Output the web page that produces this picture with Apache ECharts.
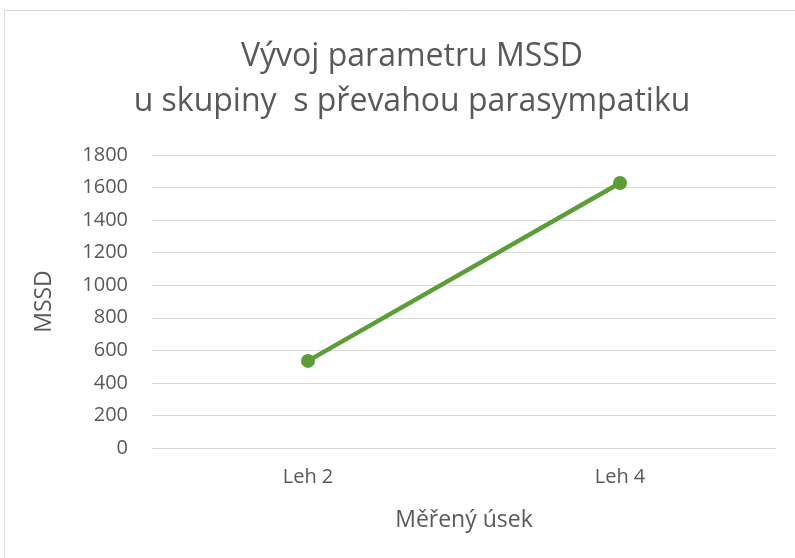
<!DOCTYPE html>
<html>
<head>
<meta charset="utf-8">
<script src="https://cdn.jsdelivr.net/npm/echarts@6/dist/echarts.min.js"></script>
<style>
    html, body { margin: 0; padding: 0; background: #fff; }
    #chart { width: 795px; height: 558px; }
</style>
</head>
<body>
<div id="chart"></div>
<script>
// data
var categories = ['Leh 2', 'Leh 4'];
var mssdValues = [535, 1628];
var yTicks = { min: 0, max: 1800, interval: 200 };

var myChart = echarts.init(document.getElementById('chart'));
var textColor = '#595959';
var font = 'Open Sans';

var option = {
    animation: false,
    title: {
        text: 'Vývoj parametru MSSD\nu skupiny  s převahou parasympatiku',
        left: 407,
        textAlign: 'center',
        top: 29,
        textStyle: {
            color: textColor,
            fontSize: 32,
            fontWeight: 'normal',
            fontFamily: font,
            lineHeight: 45
        }
    },
    // rámeček kolem grafu
    graphic: [{
        type: 'rect',
        shape: { x: 4.5, y: 10.5, width: 900, height: 900 },
        style: { fill: 'none', stroke: '#d9d9d9', lineWidth: 1 },
        silent: true
    }],
    grid: {
        left: 152,
        right: 19,
        top: 155,
        bottom: 110
    },
    xAxis: {
        type: 'category',
        data: categories,
        name: 'Měřený úsek',
        nameLocation: 'middle',
        nameGap: 61,
        nameTextStyle: { color: textColor, fontSize: 23, fontFamily: font },
        axisLine: { lineStyle: { color: '#d9d9d9', width: 1 } },
        axisTick: { show: false },
        axisLabel: { color: textColor, fontSize: 20, fontFamily: font, margin: 19 }
    },
    yAxis: {
        type: 'value',
        min: yTicks.min,
        max: yTicks.max,
        interval: yTicks.interval,
        name: 'MSSD',
        nameLocation: 'middle',
        nameGap: 96,
        nameTextStyle: { color: textColor, fontSize: 23, fontFamily: font },
        axisLine: { show: false },
        axisTick: { show: false },
        axisLabel: {
            color: textColor, fontSize: 20, fontFamily: font, margin: 24,
            formatter: function (v) { return String(v); }
        },
        splitLine: { lineStyle: { color: '#d9d9d9', width: 1 } }
    },
    series: [{
        name: 'MSSD',
        type: 'line',
        data: mssdValues,
        symbol: 'circle',
        symbolSize: 14,
        lineStyle: { color: '#5b9e38', width: 4.5 },
        itemStyle: { color: '#5b9e38' }
    }]
};

myChart.setOption(option);
</script>
</body>
</html>
